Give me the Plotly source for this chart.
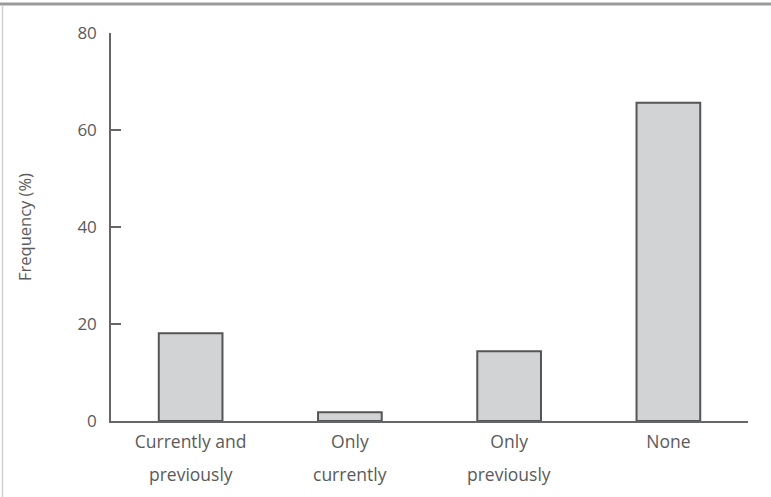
import plotly.graph_objects as go

categories_line1 = ["Currently and", "Only", "Only", "None"]
categories_line2 = ["previously", "currently", "previously", ""]
values = [18.1, 1.8, 14.4, 65.6]
y_ticks = [0, 20, 40, 60, 80]

W, H = 771, 497
L, R, T, B = 111, 23, 33, 76
pw, ph = W - L - R, H - T - B

def px_x(p):
    return (p - L) / pw

def px_y(p):
    return (H - B - p) / ph

font_fam = "'Open Sans', Lato, sans-serif"
txt_col = "#5a5a5a"

x = list(range(len(values)))
fig = go.Figure(go.Bar(
    x=x, y=values, width=0.4,
    marker=dict(color="#d2d3d5", line=dict(color="#555555", width=2)),
))

annotations = []
for i, t in enumerate(categories_line2):
    if t:
        annotations.append(dict(x=i, xref="x", y=0, yref="paper", text=t,
                                showarrow=False, yanchor="top", yshift=-39,
                                font=dict(family=font_fam, size=17.5, color=txt_col)))

fig.update_layout(
    width=W, height=H,
    margin=dict(l=L, r=R, t=T, b=B),
    paper_bgcolor="white", plot_bgcolor="white",
    showlegend=False,
    font=dict(family=font_fam, size=17, color=txt_col),
    xaxis=dict(range=[-0.5, 3.5], tickmode="array", tickvals=x, ticktext=categories_line1,
               showline=True, linecolor="#666666", linewidth=1.5, ticks="",
               ticklabelstandoff=4,
               showgrid=False, zeroline=False, tickfont=dict(size=17.5, color=txt_col)),
    yaxis=dict(range=[0, 80], tickmode="array", tickvals=y_ticks,
               ticktext=[str(v) for v in y_ticks],
               showline=True, linecolor="#666666", linewidth=1.5,
               ticks="inside", ticklen=10, tickwidth=1.5, tickcolor="#666666",
               ticklabelstandoff=9,
               showgrid=False, zeroline=False, tickfont=dict(size=17, color=txt_col),
               title=dict(text="Frequency (%)", font=dict(size=16.5, color=txt_col), standoff=42)),
    annotations=annotations,
    shapes=[
        dict(type="line", xref="paper", yref="paper", x0=px_x(0), x1=px_x(W), y0=px_y(4), y1=px_y(4),
             line=dict(color="#9a9a9a", width=3)),
        dict(type="line", xref="paper", yref="paper", x0=px_x(2.5), x1=px_x(2.5), y0=px_y(5), y1=px_y(H),
             line=dict(color="#cfcfcf", width=1.5)),
    ],
)

fig.write_html("out.html")
